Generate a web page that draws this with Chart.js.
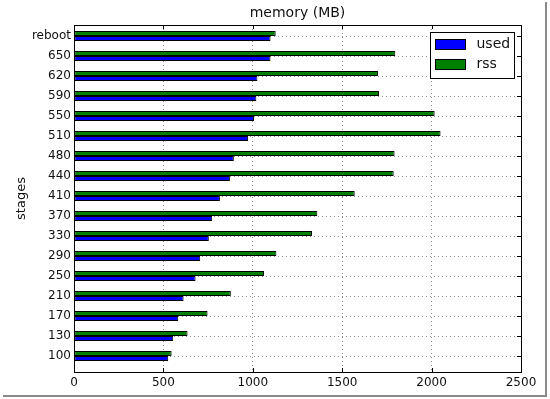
<!DOCTYPE html>
<html>
<head>
<meta charset="utf-8">
<script src="https://cdn.jsdelivr.net/npm/chart.js@4"></script>
<style>
  html, body { margin: 0; padding: 0; background: #fff; }
  #wrap { width: 550px; height: 399px; }
</style>
</head>
<body>
<div id="wrap"><canvas id="memChart" width="550" height="399"></canvas></div>
<script>
// memory per stage
const stages = ['100', '130', '170', '210', '250', '290', '330', '370', '410',
                '440', '480', '510', '550', '590', '620', '650', 'reboot'];
const usedMB = [527, 555, 583, 613, 680, 706, 754, 773, 816, 872, 894, 974, 1007, 1020, 1026, 1099, 1099];
const rssMB  = [546, 635, 747, 877, 1063, 1132, 1331, 1361, 1570, 1788, 1793, 2050, 2017, 1706, 1700, 1797, 1128];
const xTicks = [0, 500, 1000, 1500, 2000, 2500];

const textColor = '#111';
Chart.defaults.font.family = 'DejaVu Sans';
Chart.defaults.font.size = 12;
Chart.defaults.color = textColor;

// title, plot frame, inner tick marks and the boxed legend (matplotlib look)
const mplDecor = {
    id: 'mplDecor',
    beforeDraw(chart) {
        const ctx = chart.ctx;
        ctx.save();
        ctx.fillStyle = '#fff';
        ctx.fillRect(0, 0, chart.width, chart.height);
        // picture frame shadow on the right and bottom
        ctx.strokeStyle = '#8a8a8a';
        ctx.lineWidth = 2;
        ctx.beginPath();
        ctx.moveTo(546, 2);
        ctx.lineTo(546, 396);
        ctx.lineTo(3, 396);
        ctx.stroke();
        ctx.restore();
    },
    afterDraw(chart) {
        const ctx = chart.ctx;
        const a = chart.chartArea;
        const xs = chart.scales.x, ys = chart.scales.y;
        ctx.save();

        // axes frame
        ctx.strokeStyle = '#000';
        ctx.lineWidth = 1;
        ctx.strokeRect(Math.round(a.left) + 0.5, Math.round(a.top) + 0.5,
                       Math.round(a.right - a.left), Math.round(a.bottom - a.top));

        // tick marks pointing inwards
        ctx.beginPath();
        xs.ticks.forEach(t => {
            const px = Math.round(xs.getPixelForValue(t.value)) + 0.5;
            ctx.moveTo(px, a.bottom); ctx.lineTo(px, a.bottom - 4);
            ctx.moveTo(px, a.top); ctx.lineTo(px, a.top + 4);
        });
        ys.ticks.forEach(t => {
            const py = Math.round(ys.getPixelForValue(t.value)) + 0.5;
            ctx.moveTo(a.left, py); ctx.lineTo(a.left + 4, py);
            ctx.moveTo(a.right, py); ctx.lineTo(a.right - 4, py);
        });
        ctx.stroke();

        // title
        ctx.fillStyle = textColor;
        ctx.font = '14px "DejaVu Sans"';
        ctx.textAlign = 'center';
        ctx.textBaseline = 'middle';
        ctx.fillText('memory (MB)', (a.left + a.right) / 2, 13);

        // legend box in the upper right corner
        const boxW = 84, boxH = 46;
        const bx = Math.round(a.right - 7 - boxW) + 0.5;
        const by = Math.round(a.top + 7) + 0.5;
        ctx.fillStyle = '#fff';
        ctx.fillRect(bx, by, boxW, boxH);
        ctx.strokeStyle = '#000';
        ctx.strokeRect(bx, by, boxW, boxH);
        const order = [1, 0]; // used first, rss second
        ctx.textAlign = 'left';
        order.forEach((di, k) => {
            const ds = chart.data.datasets[di];
            const sy = by + 7 + k * 20;
            ctx.fillStyle = ds.backgroundColor;
            ctx.fillRect(bx + 5, sy, 30, 10);
            ctx.strokeRect(bx + 5, sy, 30, 10);
            ctx.fillStyle = textColor;
            ctx.fillText(ds.label, bx + 46, sy + 5);
        });
        ctx.restore();
    }
};

const chartElement = document.getElementById('memChart');

new Chart(chartElement, {
    type: 'bar',
    data: {
        datasets: [
            {
                label: 'rss',
                data: rssMB.map((v, i) => ({ x: v, y: i })),
                backgroundColor: '#008000'
            },
            {
                label: 'used',
                data: usedMB.map((v, i) => ({ x: v, y: i })),
                backgroundColor: '#0000ff'
            }
        ]
    },
    options: {
        indexAxis: 'y',
        responsive: false,
        animation: false,
        devicePixelRatio: 1,
        layout: { padding: { top: 25, right: 29, left: 0, bottom: 0 } },
        datasets: {
            bar: {
                barThickness: 5,
                borderWidth: 1,
                borderColor: '#000',
                borderSkipped: false,
                inflateAmount: 0
            }
        },
        scales: {
            x: {
                type: 'linear',
                min: 0,
                max: 2500,
                afterBuildTicks: (scale) => { scale.ticks = xTicks.map(v => ({ value: v })); },
                afterFit: (scale) => { scale.height = 27; },
                ticks: { padding: 4, font: { size: 12 }, callback: (v) => String(v) },
                grid: { color: '#8c8c8c', lineWidth: 1, drawTicks: false },
                border: { display: false, dash: [1, 3] }
            },
            y: {
                type: 'linear',
                offset: false,
                min: -0.8,
                max: 16.55,
                afterBuildTicks: (scale) => { scale.ticks = stages.map((s, i) => ({ value: i })); },
                afterFit: (scale) => { scale.width = 74; },
                ticks: {
                    padding: 3,
                    autoSkip: false,
                    font: { size: 12 },
                    callback: (v) => stages[v]
                },
                grid: { offset: false, color: '#8c8c8c', lineWidth: 1, drawTicks: false },
                border: { display: false, dash: [1, 3] },
                title: {
                    display: true,
                    text: 'stages',
                    font: { size: 13 },
                    padding: { top: 14, bottom: 0 }
                }
            }
        },
        plugins: {
            legend: { display: false },
            tooltip: { enabled: false }
        }
    },
    plugins: [mplDecor]
});
</script>
</body>
</html>
